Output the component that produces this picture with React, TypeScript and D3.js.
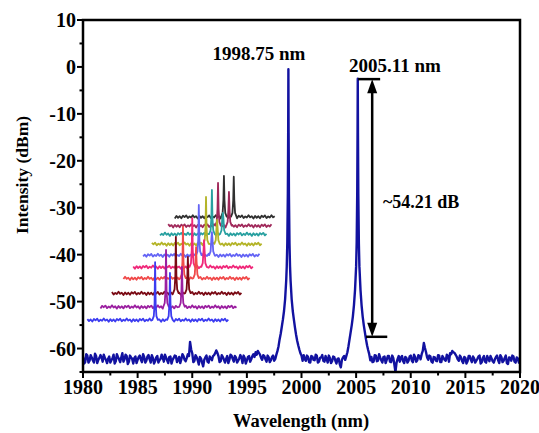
import React from "react";
import * as d3 from "d3";

// ---------- data ----------
const xTicks = [1980, 1985, 1990, 1995, 2000, 2005, 2010, 2015, 2020];
const yTicks = [-60, -50, -40, -30, -20, -10, 0, 10];

// noise floor segments: values every 0.2 nm, plus the half-step samples in between
const floorLeftStart = 1980.0;
const floorLeft = [
  -61.8, -62.9, -61.5, -62.6, -61.9, -63.0, -61.6, -62.4, -61.4, -62.8,
  -62.0, -63.1, -61.7, -62.5, -61.3, -62.7, -61.8, -62.9, -61.0, -62.3,
  -61.6, -62.8, -61.9, -63.2, -61.7, -62.4, -61.5, -62.9, -61.8, -62.6,
  -61.4, -63.0, -62.0, -62.7, -61.6, -62.5, -61.3, -62.8, -61.9, -63.1,
  -61.7, -62.4, -61.5, -62.9, -61.8, -62.3, -61.6, -62.7, -61.2, -58.6,
  -61.0, -62.6, -61.8, -63.4, -62.1, -63.8, -61.9, -62.8, -61.7, -62.5,
  -61.4, -60.4, -61.6, -62.7, -61.8, -63.0, -61.6, -62.4, -61.5, -62.8,
  -61.9, -62.6, -61.4, -63.1, -62.0, -62.5, -61.6, -62.3, -61.2, -60.8,
  -60.5, -61.3, -62.4, -61.6, -62.8, -61.9, -62.5, -61.5, -62.2,
];
const floorLeftHalf = [
  -63.2, -61.2, -63.0, -61.4, -62.5, -61.1, -63.1, -62.0, -61.9, -61.3,
  -62.4, -62.2, -63.0, -62.1, -63.2, -61.2, -62.3, -61.9, -62.8, -61.3,
  -63.3, -61.5, -62.2, -62.0, -63.1, -61.8, -62.4, -61.2, -63.0, -61.7,
  -62.3, -61.4, -63.2, -61.9, -63.0, -62.2, -62.0, -61.3, -62.5, -61.8,
  -63.2, -62.0, -61.6, -62.4, -63.1, -61.2, -62.4, -62.0, -61.6, -60.2,
  -62.9, -61.4, -62.5, -61.8, -63.0, -62.4, -61.5, -63.0, -62.1, -61.6,
  -61.0, -60.9, -62.9, -61.4, -62.4, -62.2, -63.1, -61.3, -62.2, -61.6,
  -63.0, -62.1, -61.9, -61.5, -63.2, -61.8, -62.8, -61.6, -61.8, -61.3,
  -60.9, -62.0, -61.4, -62.3, -61.5, -62.9, -61.8, -62.6, -61.3,
];
const peak1Wl = [
  1997.8, 1997.9, 1998.0, 1998.1, 1998.2, 1998.3, 1998.4, 1998.5, 1998.6, 1998.65,
  1998.7, 1998.75, 1998.78, 1998.8, 1998.82, 1998.85, 1998.9, 1998.95, 1999.0, 1999.1,
  1999.2, 1999.3, 1999.4, 1999.5, 1999.6, 1999.7, 1999.8, 1999.9, 2000.0, 2000.1,
];
const peak1Db = [
  -60.5, -59.5, -58.0, -56.8, -55.3, -53.8, -52.0, -49.5, -45.5, -42.5,
  -37.5, -27.0, -14.0, -0.5, -14.0, -27.0, -37.5, -42.5, -45.5, -49.5,
  -52.0, -53.8, -55.5, -57.0, -58.3, -59.3, -60.2, -61.0, -61.5, -62.6,
];
const floorMidStart = 2000.2;
const floorMid = [
  -61.4, -62.6, -61.8, -63.0, -61.7, -62.5, -61.5, -62.8, -61.9, -62.6,
  -61.6, -63.0, -62.0, -62.7, -61.8, -63.2, -62.1, -64.0, -61.9, -62.4,
];
const floorMidHalf = [
  -62.3, -61.5, -62.9, -61.6, -62.4, -61.3, -63.0, -62.0, -61.4, -62.8,
  -62.2, -61.5, -63.1, -61.7, -62.6, -62.2, -63.3, -62.4, -61.6, -61.6,
];
const peak2Wl = [
  2004.2, 2004.3, 2004.4, 2004.5, 2004.6, 2004.7, 2004.8, 2004.9, 2005.0, 2005.05,
  2005.1, 2005.13, 2005.15, 2005.17, 2005.2, 2005.25, 2005.3, 2005.4, 2005.5, 2005.6,
  2005.7, 2005.8, 2005.9, 2006.0, 2006.1, 2006.2, 2006.3,
];
const peak2Db = [
  -60.8, -59.5, -58.0, -56.5, -55.0, -53.2, -50.8, -47.5, -42.5, -37.5,
  -27.0, -14.0, -2.5, -14.0, -27.0, -37.5, -42.5, -47.5, -50.8, -53.2,
  -55.0, -56.5, -58.0, -59.3, -60.3, -61.2, -62.5,
];
const floorRightStart = 2006.4;
const floorRight = [
  -61.8, -62.8, -61.5, -62.6, -61.9, -63.0, -61.7, -62.4, -61.6, -62.9,
  -62.0, -65.0, -62.2, -62.8, -61.6, -63.1, -62.0, -62.6, -61.5, -62.9,
  -61.8, -62.5, -61.6, -61.2, -58.8, -60.8, -62.4, -61.7, -63.0, -61.9,
  -62.7, -61.5, -62.9, -62.0, -62.6, -61.6, -61.0, -60.5, -60.9, -61.7,
  -62.6, -61.9, -63.1, -62.0, -62.7, -61.6, -62.9, -62.1, -62.6, -61.7,
  -63.2, -62.0, -62.8, -61.6, -62.7, -62.1, -63.0, -61.8, -62.5, -61.4,
  -62.9, -62.0, -63.1, -61.9, -62.6, -61.7, -63.0, -62.1, -62.7,
];
const floorRightHalf = [
  -62.9, -61.4, -62.7, -61.2, -62.5, -61.8, -63.1, -61.6, -62.8, -61.5,
  -63.4, -63.0, -61.6, -61.9, -62.7, -61.8, -63.0, -61.7, -62.6, -61.3,
  -62.8, -61.4, -62.3, -60.5, -59.9, -61.9, -61.5, -62.8, -61.8, -62.6,
  -61.4, -62.9, -61.6, -62.4, -61.3, -62.8, -61.2, -60.8, -61.3, -62.3,
  -61.5, -62.7, -61.8, -63.2, -61.6, -62.4, -61.7, -63.0, -62.2, -61.5,
  -62.9, -61.6, -63.0, -62.2, -61.6, -62.7, -62.3, -61.5, -63.1, -61.8,
  -62.6, -61.5, -63.3, -62.0, -61.5, -62.8, -61.9, -63.0,
];

// inset (waterfall of tuned spectra), in main-axis units
const insetColors = ["#3c3cf0", "#9b1fa0", "#7a0a14", "#f04a4a", "#f0287a", "#6464f5", "#b4b428", "#28a0a0", "#a0285a", "#303030"];
const insetStart = [1980.4, 1981.6, 1982.65, 1983.7, 1984.6, 1985.5, 1986.3, 1987.05, 1987.8, 1988.4];
const insetEnd = [1993.45, 1994.1, 1994.65, 1995.3, 1995.7, 1996.2, 1996.5, 1996.95, 1997.3, 1997.7];
const insetBase = [-53.9, -51.1, -48.2, -45.0, -42.6, -40.1, -37.7, -35.6, -33.8, -31.9];
const insetPeakA = [1986.6, 1987.6, 1988.5, 1989.15, 1990.0, 1990.6, 1991.26, 1991.8, 1992.36, 1992.9];
const insetPeakB = [1987.96, 1989.06, 1989.6, 1990.35, 1991.08, 1991.8, 1992.27, 1992.8, 1993.36, 1993.8];
const insetTopA = [-41.6, -39.0, -36.2, -34.0, -32.2, -29.4, -27.7, -26.2, -24.7, -23.2];
const insetTopB = [-43.9, -42.6, -40.5, -38.4, -36.9, -35.2, -32.6, -31.1, -26.6, -23.4];
const insetJitter = [0.15, -0.25, 0.1, -0.35, 0.2, -0.1, 0.25, -0.3, 0.05, -0.2, 0.3, -0.15, 0.1, -0.4];

// annotation
const peak1Label = "1998.75 nm";
const peak2Label = "2005.11 nm";
const contrastLabel = "~54.21 dB";
const arrowWl = 2006.47;
const arrowTop = -2.6;
const arrowBottom = -57.5;

// ---------- layout ----------
const W = 539, H = 433;
const L = 83, R = 520, T = 20, B = 372;
const x = d3.scaleLinear().domain([1980, 2020]).range([L, R]);
const y = d3.scaleLinear().domain([-65, 10]).range([B, T]);
const FONT = "'Liberation Serif', 'Times New Roman', serif";

function spectrum(): [number, number][] {
  const pts: [number, number][] = [];
  floorLeft.forEach((v, i) => pts.push([floorLeftStart + i * 0.2, v]));
  floorLeftHalf.forEach((v, i) => pts.push([floorLeftStart + 0.1 + i * 0.2, v]));
  peak1Wl.forEach((w, i) => pts.push([w, peak1Db[i]]));
  floorMid.forEach((v, i) => pts.push([floorMidStart + i * 0.2, v]));
  floorMidHalf.forEach((v, i) => pts.push([floorMidStart + 0.1 + i * 0.2, v]));
  peak2Wl.forEach((w, i) => pts.push([w, peak2Db[i]]));
  floorRight.forEach((v, i) => pts.push([floorRightStart + i * 0.2, v]));
  floorRightHalf.forEach((v, i) => pts.push([floorRightStart + 0.1 + i * 0.2, v]));
  pts.sort((a, b) => a[0] - b[0]);
  return pts;
}

function insetTrace(k: number): [number, number][] {
  const base = insetBase[k];
  const pts: [number, number][] = [];
  const peaks = [
    [insetPeakA[k], insetTopA[k]],
    [insetPeakB[k], insetTopB[k]],
  ];
  let j = k * 3;
  for (let w = insetStart[k]; w <= insetEnd[k]; w += 0.15) {
    if (peaks.some(([p]) => Math.abs(w - p) < 0.28)) continue;
    pts.push([w, base + insetJitter[j % insetJitter.length]]);
    j++;
  }
  peaks.forEach(([p, top]) => {
    pts.push([p - 0.25, base]);
    pts.push([p - 0.12, base + 0.8]);
    pts.push([p - 0.05, base + 3.5]);
    pts.push([p, top]);
    pts.push([p + 0.05, base + 3.5]);
    pts.push([p + 0.12, base + 0.8]);
    pts.push([p + 0.25, base]);
  });
  pts.sort((a, b) => a[0] - b[0]);
  return pts;
}

export default function App() {
  const line = d3
    .line<[number, number]>()
    .x((d) => x(d[0]))
    .y((d) => y(d[1]));
  const minorX = d3.range(1980, 2020.01, 2.5).filter((v) => v % 5 !== 0);
  const minorY = d3.range(-65, 10.01, 5).filter((v) => v % 10 !== 0);
  const arrowX = x(arrowWl);
  const aTop = y(arrowTop);
  const aBot = y(arrowBottom);
  return (
    <svg
      width={W}
      height={H}
      style={{ position: "absolute", left: 0, top: 0, background: "#fff" }}
      fontFamily={FONT}
    >
      <defs>
        <clipPath id="plot">
          <rect x={L} y={T} width={R - L} height={B - T} />
        </clipPath>
      </defs>
      <g clipPath="url(#plot)">
        {d3.range(insetColors.length - 1, -1, -1).map((k) => (
          <path
            key={k}
            d={line(insetTrace(k)) || ""}
            fill="none"
            stroke={insetColors[k]}
            strokeWidth={1.8}
            strokeLinejoin="round"
          />
        ))}
        <path
          d={line(spectrum()) || ""}
          fill="none"
          stroke="#1212a0"
          strokeWidth={2.4}
          strokeLinejoin="round"
        />
      </g>
      <rect x={L} y={T} width={R - L} height={B - T} fill="none" stroke="#000" strokeWidth={2.5} />
      {xTicks.map((t) => (
        <g key={t}>
          <line x1={x(t)} x2={x(t)} y1={B} y2={B + 6} stroke="#000" strokeWidth={2} />
          <text x={x(t)} y={394} textAnchor="middle" fontSize={20} fontWeight="bold">
            {t}
          </text>
        </g>
      ))}
      {minorX.map((t) => (
        <line key={t} x1={x(t)} x2={x(t)} y1={B} y2={B + 3.5} stroke="#000" strokeWidth={2} />
      ))}
      {yTicks.map((t) => (
        <g key={t}>
          <line x1={L - 6} x2={L} y1={y(t)} y2={y(t)} stroke="#000" strokeWidth={2} />
          <text x={76} y={y(t)} dy="0.35em" textAnchor="end" fontSize={20} fontWeight="bold">
            {t}
          </text>
        </g>
      ))}
      {minorY.map((t) => (
        <line key={t} x1={L - 3.5} x2={L} y1={y(t)} y2={y(t)} stroke="#000" strokeWidth={2} />
      ))}
      <text x={301} y={427} textAnchor="middle" fontSize={18.5} fontWeight="bold">
        Wavelength (nm)
      </text>
      <text
        transform={`translate(28, 175) rotate(-90)`}
        textAnchor="middle"
        fontSize={17.5}
        fontWeight="bold"
      >
        Intensity (dBm)
      </text>
      <text x={259} y={60} textAnchor="middle" fontSize={19} fontWeight="bold">
        {peak1Label}
      </text>
      <text x={395} y={72} textAnchor="middle" fontSize={19} fontWeight="bold">
        {peak2Label}
      </text>
      <line x1={x(2005.18)} x2={x(2007.2)} y1={aTop} y2={aTop} stroke="#000" strokeWidth={2.5} />
      <line x1={x(2005.9)} x2={x(2007.85)} y1={aBot} y2={aBot} stroke="#000" strokeWidth={2.5} />
      <line x1={arrowX} x2={arrowX} y1={aTop + 8} y2={aBot - 8} stroke="#000" strokeWidth={2.5} />
      <path d={`M${arrowX},${aTop} L${arrowX - 5},${aTop + 14} L${arrowX + 5},${aTop + 14} Z`} fill="#000" />
      <path d={`M${arrowX},${aBot} L${arrowX - 5},${aBot - 14} L${arrowX + 5},${aBot - 14} Z`} fill="#000" />
      <text x={383} y={208} fontSize={18} fontWeight="bold">
        {contrastLabel}
      </text>
    </svg>
  );
}
